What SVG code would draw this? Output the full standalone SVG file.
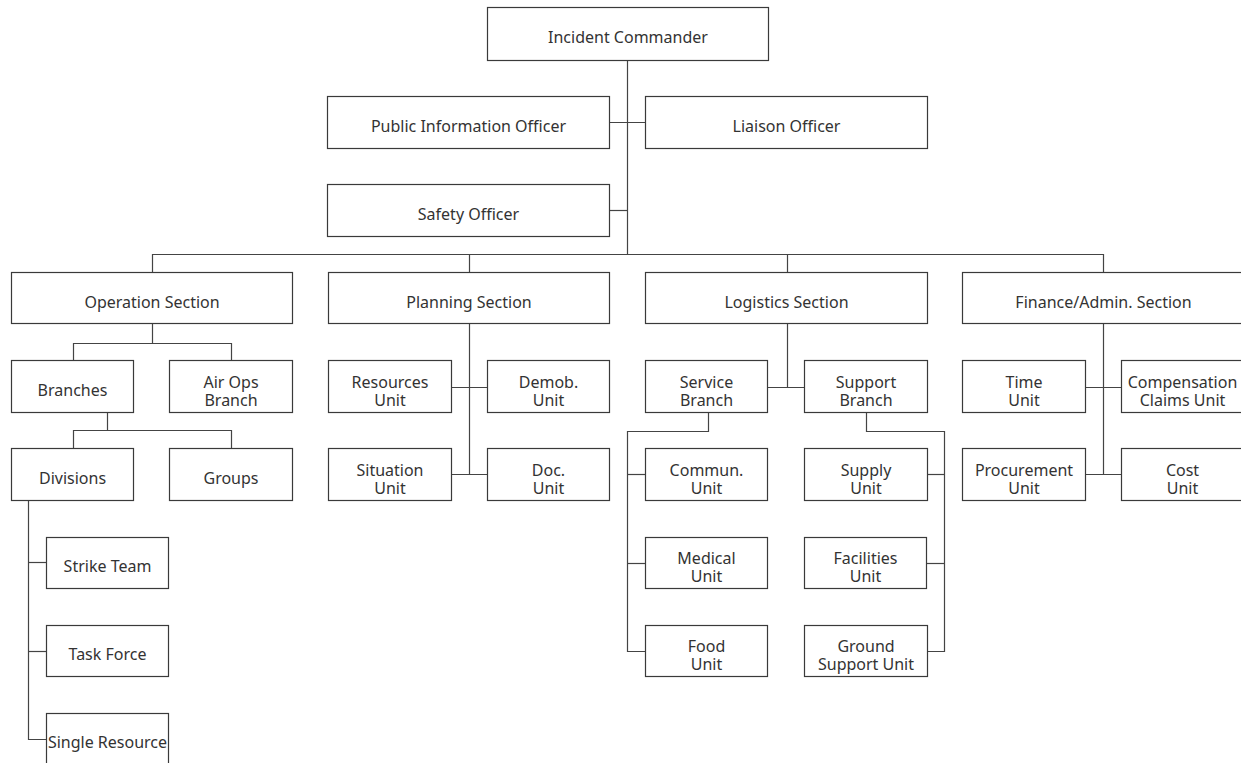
<svg xmlns="http://www.w3.org/2000/svg" width="1241" height="763" viewBox="0 0 1241 763">
<style>
rect{fill:#fff;stroke:#3a3a3a;stroke-width:1.2}
text{font-family:"Noto Sans","Open Sans",sans-serif;font-size:16px;fill:#333;text-anchor:middle}
.c path{fill:none;stroke:#444;stroke-width:1.2}
</style>
<rect x="0" y="0" width="1241" height="763" style="stroke:none"/>
<g class="c" id="connectors">
<path d="M627.5 61 V254.5"/>
<path d="M610 122.5 H645"/>
<path d="M610 210.5 H627.5"/>
<path d="M152.5 272 V254.5 H1103.5 V272"/>
<path d="M469.5 254.5 V272"/>
<path d="M787.5 254.5 V272"/>
<path d="M152.5 324 V343.5"/>
<path d="M73.5 360 V343.5 H231.5 V360"/>
<path d="M107.5 413 V430.5"/>
<path d="M73.5 448 V430.5 H231.5 V448"/>
<path d="M28.5 501 V739.5 H46"/>
<path d="M28.5 562.5 H46"/>
<path d="M28.5 651.5 H46"/>
<path d="M469.5 324 V474.5"/>
<path d="M452 387.5 H487"/>
<path d="M452 474.5 H487"/>
<path d="M787.5 324 V387.5"/>
<path d="M768 387.5 H804"/>
<path d="M708.5 413 V431.5 H627.5 V651.5 H645"/>
<path d="M627.5 474.5 H645"/>
<path d="M627.5 563.5 H645"/>
<path d="M866.5 413 V431.5 H944.5 V651.5 H928"/>
<path d="M928 474.5 H944.5"/>
<path d="M927 563.5 H944.5"/>
<path d="M1103.5 324 V474.5"/>
<path d="M1086 387.5 H1121"/>
<path d="M1086 474.5 H1121"/>
</g>
<g id="incident-commander"><rect x="487.5" y="7.5" width="281" height="53"/><text x="628" y="43">Incident Commander</text></g>
<g id="pio"><rect x="327.5" y="96.5" width="282" height="52"/><text x="468.5" y="132">Public Information Officer</text></g>
<g id="liaison"><rect x="645.5" y="96.5" width="282" height="52"/><text x="786.5" y="132">Liaison Officer</text></g>
<g id="safety"><rect x="327.5" y="184.5" width="282" height="52"/><text x="468.5" y="220">Safety Officer</text></g>
<g id="operation"><rect x="11.5" y="272.5" width="281" height="51"/><text x="152" y="308">Operation Section</text></g>
<g id="planning"><rect x="328.5" y="272.5" width="281" height="51"/><text x="469" y="308">Planning Section</text></g>
<g id="logistics"><rect x="645.5" y="272.5" width="282" height="51"/><text x="786.5" y="308">Logistics Section</text></g>
<g id="finance"><rect x="962.5" y="272.5" width="282" height="51"/><text x="1103.5" y="308">Finance/Admin. Section</text></g>
<g id="branches"><rect x="11.5" y="360.5" width="122" height="52"/><text x="72.5" y="396">Branches</text></g>
<g id="air-ops"><rect x="169.5" y="360.5" width="123" height="52"/><text x="231" y="388">Air Ops</text><text x="231" y="406">Branch</text></g>
<g id="divisions"><rect x="11.5" y="448.5" width="122" height="52"/><text x="72.5" y="484">Divisions</text></g>
<g id="groups"><rect x="169.5" y="448.5" width="123" height="52"/><text x="231" y="484">Groups</text></g>
<g id="strike-team"><rect x="46.5" y="537.5" width="122" height="51"/><text x="107.5" y="572">Strike Team</text></g>
<g id="task-force"><rect x="46.5" y="625.5" width="122" height="51"/><text x="107.5" y="660">Task Force</text></g>
<g id="single-resource"><rect x="46.5" y="713.5" width="122" height="53"/><text x="107.5" y="748">Single Resource</text></g>
<g id="resources"><rect x="328.5" y="360.5" width="123" height="52"/><text x="390" y="388">Resources</text><text x="390" y="406">Unit</text></g>
<g id="demob"><rect x="487.5" y="360.5" width="122" height="52"/><text x="548.5" y="388">Demob.</text><text x="548.5" y="406">Unit</text></g>
<g id="situation"><rect x="328.5" y="448.5" width="123" height="52"/><text x="390" y="476">Situation</text><text x="390" y="494">Unit</text></g>
<g id="doc"><rect x="487.5" y="448.5" width="122" height="52"/><text x="548.5" y="476">Doc.</text><text x="548.5" y="494">Unit</text></g>
<g id="service"><rect x="645.5" y="360.5" width="122" height="52"/><text x="706.5" y="388">Service</text><text x="706.5" y="406">Branch</text></g>
<g id="support"><rect x="804.5" y="360.5" width="123" height="52"/><text x="866" y="388">Support</text><text x="866" y="406">Branch</text></g>
<g id="commun"><rect x="645.5" y="448.5" width="122" height="52"/><text x="706.5" y="476">Commun.</text><text x="706.5" y="494">Unit</text></g>
<g id="medical"><rect x="645.5" y="537.5" width="122" height="51"/><text x="706.5" y="564">Medical</text><text x="706.5" y="582">Unit</text></g>
<g id="food"><rect x="645.5" y="625.5" width="122" height="51"/><text x="706.5" y="652">Food</text><text x="706.5" y="670">Unit</text></g>
<g id="supply"><rect x="804.5" y="448.5" width="123" height="52"/><text x="866" y="476">Supply</text><text x="866" y="494">Unit</text></g>
<g id="facilities"><rect x="804.5" y="537.5" width="122" height="51"/><text x="865.5" y="564">Facilities</text><text x="865.5" y="582">Unit</text></g>
<g id="ground"><rect x="804.5" y="625.5" width="123" height="51"/><text x="866" y="652">Ground</text><text x="866" y="670">Support Unit</text></g>
<g id="time"><rect x="962.5" y="360.5" width="123" height="52"/><text x="1024" y="388">Time</text><text x="1024" y="406">Unit</text></g>
<g id="compensation"><rect x="1121.5" y="360.5" width="122" height="52"/><text x="1182.5" y="388">Compensation</text><text x="1182.5" y="406">Claims Unit</text></g>
<g id="procurement"><rect x="962.5" y="448.5" width="123" height="52"/><text x="1024" y="476">Procurement</text><text x="1024" y="494">Unit</text></g>
<g id="cost"><rect x="1121.5" y="448.5" width="122" height="52"/><text x="1182.5" y="476">Cost</text><text x="1182.5" y="494">Unit</text></g>
</svg>
